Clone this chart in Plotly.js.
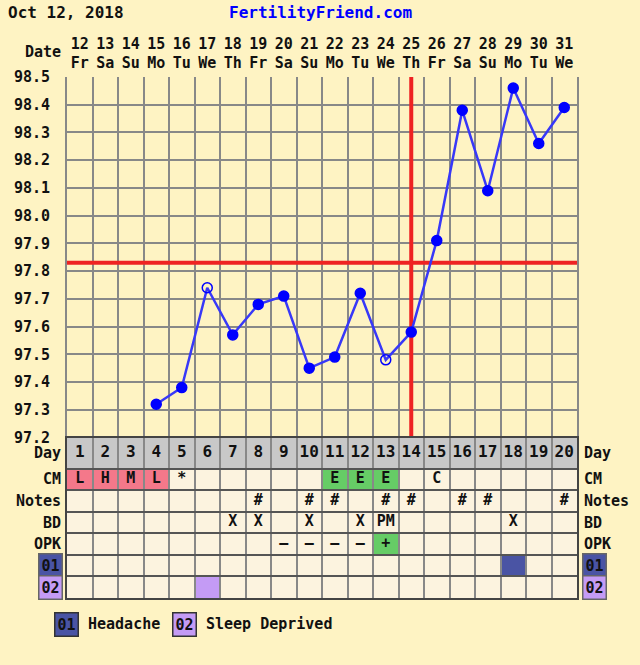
<!DOCTYPE html>
<html><head><meta charset="utf-8">
<script src="https://cdn.plot.ly/plotly-3.0.1.min.js"></script>
<style>body{margin:0;background:#FEF3C3}</style>
</head><body><div id="chart" style="width:640px;height:665px"></div>
<script>
// ---- data ----
const cycleDays = [1,2,3,4,5,6,7,8,9,10,11,12,13,14,15,16,17,18,19,20];
const dateNums = ['12','13','14','15','16','17','18','19','20','21','22','23','24','25','26','27','28','29','30','31'];
const weekdays = ['Fr','Sa','Su','Mo','Tu','We','Th','Fr','Sa','Su','Mo','Tu','We','Th','Fr','Sa','Su','Mo','Tu','We'];
const temps = [null,null,null,97.32,97.38,97.74,97.57,97.68,97.71,97.45,97.49,97.72,97.48,97.58,97.91,98.38,98.09,98.46,98.26,98.39];
const openDays = [6,13];
const tempTicks = [97.2,97.3,97.4,97.5,97.6,97.7,97.8,97.9,98.0,98.1,98.2,98.3,98.4,98.5];
const coverline = 97.83;
const ovulationDay = 14;
const cmValues    = ['L','H','M','L','*','','','','','','E','E','E','','C','','','','',''];
const notesValues = ['','','','','','','','#','','#','#','','#','#','','#','#','','','#'];
const bdValues    = ['','','','','','','X','X','','X','','X','PM','','','','','X','',''];
const opkValues   = ['','','','','','','','','–','–','–','–','+','','','','','','',''];
const symptom01   = [0,0,0,0,0,0,0,0,0,0,0,0,0,0,0,0,0,1,0,0];
const symptom02   = [0,0,0,0,0,1,0,0,0,0,0,0,0,0,0,0,0,0,0,0];
const rowNames = ['Day','CM','Notes','BD','OPK','01','02'];
const legendItems = [['01','Headache'],['02','Sleep Deprived']];

// ---- style ----
const BG = '#FEF3C3', CELL = '#FCF3DF', GRAY = '#C8C8C8';
const PINK = '#F4788A', GREEN = '#66CC66', C01 = '#4A54A4', C02 = '#C49BF5';
const FONT = 'DejaVu Sans Mono';
const f = (s, c) => ({family: FONT, size: s, color: c || '#111', weight: 'bold'});

// table row geometry (row units)
const dayH = 1.44;
const rowEdges = [0, dayH, dayH+1, dayH+2, dayH+3, dayH+4, dayH+5, dayH+6];
const rowCenters = rowEdges.slice(0,-1).map((e,i)=> (e+rowEdges[i+1])/2);
const colEdges = [0].concat(cycleDays).map(d => d + 0.5);

const shapes = [];
shapes.push({type:'rect', xref:'x2', yref:'y2', x0:0.5, x1:20.5, y0:0, y1:rowEdges[7], fillcolor:CELL, line:{width:0}, layer:'below'});
function cell(day, row, color){
  shapes.push({type:'rect', xref:'x2', yref:'y2', x0:day-0.5, x1:day+0.5, y0:rowEdges[row], y1:rowEdges[row+1], fillcolor:color, line:{width:0}, layer:'below'});
}
cycleDays.forEach((d,i)=>{
  cell(d,0,GRAY);
  if (['L','H','M'].includes(cmValues[i])) cell(d,1,PINK);
  if (cmValues[i]==='E') cell(d,1,GREEN);
  if (opkValues[i]==='+') cell(d,4,GREEN);
  if (symptom01[i]) cell(d,5,C01);
  if (symptom02[i]) cell(d,6,C02);
});
shapes.push({type:'line', xref:'x', yref:'y', x0:0.5, x1:20.5, y0:coverline, y1:coverline, line:{color:'#EE2222', width:4}, layer:'between'});
shapes.push({type:'line', xref:'x', yref:'y', x0:ovulationDay, x1:ovulationDay, y0:97.2, y1:98.5, line:{color:'#EE2222', width:4}, layer:'between'});

const traces = [];
traces.push({
  x: cycleDays, y: temps, xaxis:'x', yaxis:'y', type:'scatter', mode:'lines+markers',
  line:{color:'#3838F8', width:2.5},
  marker:{
    color:'#0000FF',
    symbol: cycleDays.map(d => openDays.includes(d) ? 'circle-open' : 'circle'),
    size: 10,
    line:{color:'#0000FF', width:1.5}
  },
  hoverinfo:'skip', showlegend:false
});
// carrier trace for the top date axis
traces.push({x: cycleDays, y: temps, xaxis:'x3', yaxis:'y', type:'scatter', mode:'markers',
  marker:{opacity:0}, hoverinfo:'skip', showlegend:false});
const rowTexts = [cycleDays.map(String), cmValues, notesValues, bdValues, opkValues];
rowTexts.forEach((vals, r)=>{
  traces.push({
    x: cycleDays, y: cycleDays.map(()=>rowCenters[r]), text: vals,
    xaxis:'x2', yaxis:'y2', type:'scatter', mode:'text',
    textfont: f(r===0 ? 16 : 15), textposition:'middle center',
    hoverinfo:'skip', showlegend:false
  });
});

const annotations = [];
annotations.push({xref:'paper', yref:'paper', x:-61/510, y:1+65/521, xanchor:'left', yanchor:'middle', text:'Oct 12, 2018', showarrow:false, font:f(16)});
annotations.push({xref:'paper', yref:'paper', x:(320-67)/510, y:1+65/521, xanchor:'center', yanchor:'middle', text:'FertilityFriend.com', showarrow:false, font:f(16,'#0000FF')});
annotations.push({xref:'paper', yref:'paper', x:-4/510, y:1+25/521, xanchor:'right', yanchor:'middle', text:'Date', showarrow:false, font:f(15)});
rowNames.forEach((n,r)=>{
  const isBox = n==='01' || n==='02';
  const bg = n==='01' ? C01 : (n==='02' ? C02 : null);
  const common = {yref:'y2', y:rowCenters[r], yanchor:'middle', text:n, showarrow:false, font:f(15)};
  if (isBox) { common.bgcolor = bg; common.bordercolor = '#666'; common.borderwidth = 1.5; common.borderpad = 2; }
  annotations.push(Object.assign({xref:'paper', x:-4/510, xanchor:'right'}, common));
  annotations.push(Object.assign({xref:'paper', x:1+5/510, xanchor:'left'}, common));
});
let lx = 54;
legendItems.forEach(([code,label],i)=>{
  const col = i===0 ? C01 : C02;
  annotations.push({xref:'paper', yref:'paper', x:(lx-67)/510, y:-26/521, xanchor:'left', yanchor:'middle', text:code, showarrow:false, font:f(15), bgcolor:col, bordercolor:'#333', borderwidth:1.5, borderpad:2});
  annotations.push({xref:'paper', yref:'paper', x:(lx+32-67)/510, y:-26/521, xanchor:'left', yanchor:'middle', text:label, showarrow:false, font:f(15)});
  lx = 172;
});

const yDomSplit = 160.5/521;
const layout = {
  width:640, height:665,
  margin:{l:67, r:63, t:77, b:67},
  paper_bgcolor:BG, plot_bgcolor:BG,
  font:f(14),
  showlegend:false,
  xaxis:{domain:[0,1], anchor:'y', range:[0.5,20.5], tickvals:colEdges, showticklabels:false, ticks:'',
         showgrid:true, gridcolor:'#888', gridwidth:2, zeroline:false,
         showline:true, linecolor:'#222', linewidth:2, fixedrange:true},
  xaxis3:{overlaying:'x', anchor:'y', side:'top', range:[0.5,20.5], tickvals:cycleDays,
          ticktext: cycleDays.map((d,i)=> dateNums[i]+'<br>'+weekdays[i]),
          showgrid:false, zeroline:false, showline:false, ticks:'outside', ticklen:2, tickcolor:'rgba(0,0,0,0)', tickfont:f(15)},
  yaxis:{domain:[yDomSplit,1], anchor:'x', range:[97.2,98.5], tickvals:tempTicks, ticktext:tempTicks.map(v=>v.toFixed(1)),
         showgrid:true, gridcolor:'#888', gridwidth:2, zeroline:false, ticks:'outside', ticklen:12, tickcolor:'rgba(0,0,0,0)',
         tickfont:f(15), showline:true, linecolor:'#888', linewidth:2, mirror:true},
  yaxis3:{overlaying:'y', side:'right', anchor:'x', range:[97.2,98.5], tickvals:tempTicks, ticktext:tempTicks.map(v=>v.toFixed(1)),
          showgrid:false, zeroline:false, ticks:'outside', ticklen:4, tickcolor:'rgba(0,0,0,0)', tickfont:f(15)},
  xaxis2:{domain:[0,1], anchor:'y2', range:[0.5,20.5], tickvals:colEdges, showticklabels:false, ticks:'',
          showgrid:true, gridcolor:'#888', gridwidth:2, zeroline:false,
          showline:true, linecolor:'#444', linewidth:2, mirror:true},
  yaxis2:{domain:[0,yDomSplit], anchor:'x2', range:[rowEdges[7],0], tickvals:rowEdges, showticklabels:false, ticks:'',
          showgrid:true, gridcolor:'#555', gridwidth:2, zeroline:false,
          showline:true, linecolor:'#444', linewidth:2, mirror:true},
  shapes: shapes,
  annotations: annotations
};
Plotly.newPlot('chart', traces, layout, {staticPlot:true, displayModeBar:false});
</script></body></html>
